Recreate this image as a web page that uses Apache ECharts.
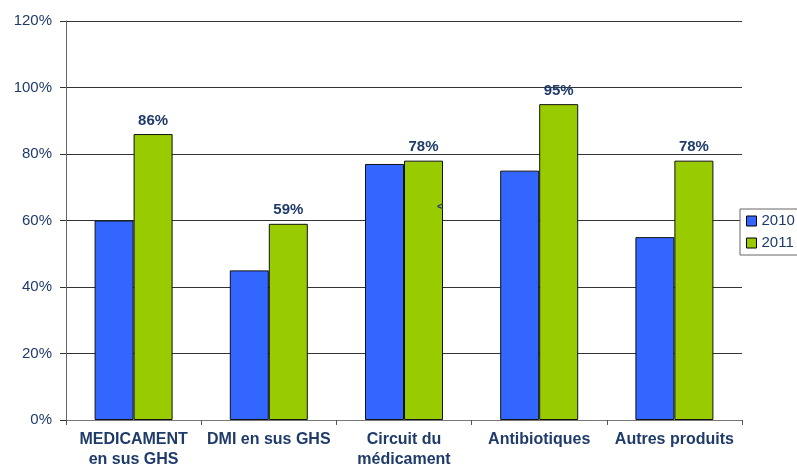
<!DOCTYPE html>
<html>
<head>
<meta charset="utf-8">
<script src="https://cdn.jsdelivr.net/npm/echarts@6/dist/echarts.min.js"></script>
<style>
  html, body { margin: 0; padding: 0; background: #fff; }
  #chart { width: 797px; height: 464px; }
</style>
</head>
<body>
<div id="chart"></div>
<script>
// Categories and yearly rates (%)
const categories = ['MEDICAMENT\nen sus GHS', 'DMI en sus GHS', 'Circuit du\nmédicament', 'Antibiotiques', 'Autres produits'];
const values2010 = [60, 45, 77, 75, 55];
const values2011 = [86, 59, 78, 95, 78];
const yTicks = [0, 20, 40, 60, 80, 100, 120];

const textColor = '#1F3B6A';
const font = 'Liberation Sans, Arial, sans-serif';

const chart = echarts.init(document.getElementById('chart'), null, { renderer: 'canvas' });

chart.setOption({
  animation: false,
  backgroundColor: '#fff',
  grid: { left: 66, right: 55, top: 21, bottom: 44, containLabel: false, outerBoundsMode: 'none' },
  legend: {
    orient: 'vertical',
    left: 740,
    top: 209,
    padding: [4, 12, 4, 6],
    itemWidth: 10,
    itemHeight: 10,
    itemGap: 6,
    backgroundColor: '#fff',
    borderColor: '#666',
    borderWidth: 1,
    textStyle: { color: textColor, fontSize: 15, fontFamily: font, lineHeight: 16 },
    data: [
      { name: '2010', icon: 'rect', itemStyle: { borderColor: '#000', borderWidth: 1 } },
      { name: '2011', icon: 'rect', itemStyle: { borderColor: '#000', borderWidth: 1 } }
    ]
  },
  xAxis: {
    type: 'category',
    data: categories,
    axisLine: { lineStyle: { color: '#777', width: 1 } },
    axisTick: { show: true, length: 5, lineStyle: { color: '#555' } },
    axisLabel: {
      color: textColor, fontSize: 16, fontWeight: 'bold', fontFamily: font,
      margin: 10, lineHeight: 20, interval: 0
    },
    splitLine: { show: false }
  },
  yAxis: {
    type: 'value',
    min: yTicks[0],
    max: yTicks[yTicks.length - 1],
    interval: 20,
    axisLine: { show: true, lineStyle: { color: '#666', width: 1 } },
    axisTick: { show: true, length: 6, lineStyle: { color: '#333' } },
    axisLabel: {
      color: textColor, fontSize: 15, fontFamily: font, margin: 14,
      formatter: v => v + '%'
    },
    splitLine: { show: true, lineStyle: { color: '#333', width: 1 } }
  },
  series: [
    {
      name: '2010',
      type: 'bar',
      data: values2010,
      barWidth: 39,
      barGap: '0%',
      itemStyle: { color: '#3366FF', borderColor: '#111', borderWidth: 1 }
    },
    {
      name: '2011',
      type: 'bar',
      data: values2011,
      barWidth: 39,
      itemStyle: { color: '#99CC00', borderColor: '#111', borderWidth: 1 },
      label: {
        show: true,
        position: 'top',
        distance: 6,
        color: textColor,
        fontSize: 15,
        fontWeight: 'bold',
        fontFamily: font,
        formatter: p => p.value + '%'
      }
    }
  ],
  graphic: [
    {
      type: 'text',
      left: 437,
      top: 201,
      z: 100,
      style: { text: '<', fill: textColor, font: 'bold 11px ' + font }
    }
  ]
});
</script>
</body>
</html>
